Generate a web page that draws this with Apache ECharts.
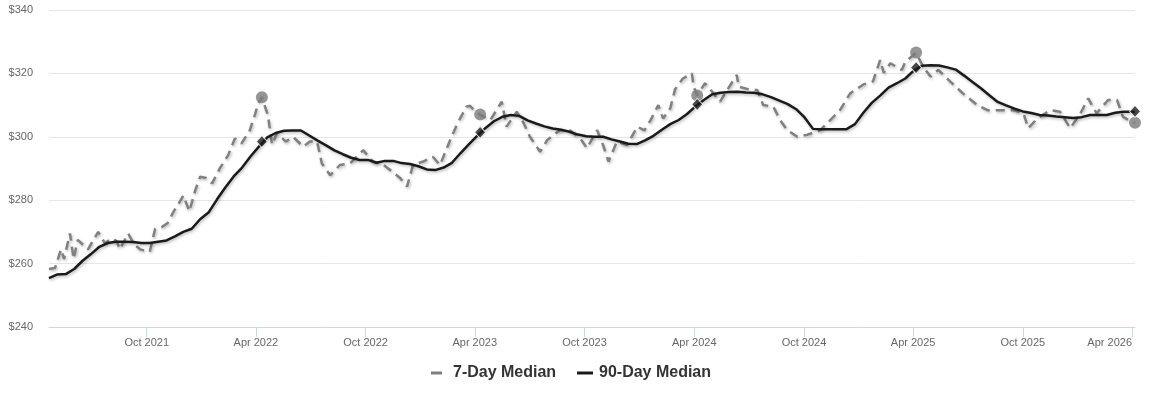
<!DOCTYPE html>
<html>
<head>
<meta charset="utf-8">
<script src="https://cdn.jsdelivr.net/npm/echarts@6/dist/echarts.min.js"></script>
<style>
html,body{margin:0;padding:0;background:#fff;}
#chart{width:1150px;height:401px;}
</style>
</head>
<body>
<div id="chart"></div>
<script>
// ---- Data ----
const tickDates = ['2021-10-01','2022-04-01','2022-10-01','2023-04-01','2023-10-01','2024-04-01','2024-10-01','2025-04-01','2025-10-01','2026-04-01'];
const tickLabels = ['Oct 2021','Apr 2022','Oct 2022','Apr 2023','Oct 2023','Apr 2024','Oct 2024','Apr 2025','Oct 2025','Apr 2026'];
const yTicks = [240, 260, 280, 300, 320, 340];

const dates90 = [
'2021-04-21','2021-05-05','2021-05-19','2021-06-02','2021-06-16','2021-06-30','2021-07-14','2021-07-28','2021-08-11','2021-08-25',
'2021-09-08','2021-09-22','2021-10-06','2021-10-20','2021-11-03','2021-11-17','2021-12-01','2021-12-15','2021-12-29','2022-01-12',
'2022-01-26','2022-02-09','2022-02-23','2022-03-09','2022-03-23','2022-04-06','2022-04-20','2022-05-04','2022-05-18','2022-06-01',
'2022-06-15','2022-06-29','2022-07-13','2022-07-27','2022-08-10','2022-08-24','2022-09-07','2022-09-21','2022-10-05','2022-10-19',
'2022-11-02','2022-11-16','2022-11-30','2022-12-14','2022-12-28','2023-01-11','2023-01-25','2023-02-08','2023-02-22','2023-03-08',
'2023-03-22','2023-04-05','2023-04-19','2023-05-03','2023-05-17','2023-05-31','2023-06-14','2023-06-28','2023-07-12','2023-07-26',
'2023-08-09','2023-08-23','2023-09-06','2023-09-20','2023-10-04','2023-10-18','2023-11-01','2023-11-15','2023-11-29','2023-12-13',
'2023-12-27','2024-01-10','2024-01-24','2024-02-07','2024-02-21','2024-03-06','2024-03-20','2024-04-03','2024-04-17','2024-05-01',
'2024-05-15','2024-05-29','2024-06-12','2024-06-26','2024-07-10','2024-07-24','2024-08-07','2024-08-21','2024-09-04','2024-09-18',
'2024-10-02','2024-10-16','2024-10-30','2024-11-13','2024-11-27','2024-12-11','2024-12-25','2025-01-08','2025-01-22','2025-02-05',
'2025-02-19','2025-03-05','2025-03-19','2025-04-02','2025-04-16','2025-04-30','2025-05-14','2025-05-28','2025-06-11','2025-06-25',
'2025-07-09','2025-07-23','2025-08-06','2025-08-20','2025-09-03','2025-09-17','2025-10-01','2025-10-15','2025-10-29','2025-11-12',
'2025-11-26','2025-12-10','2025-12-24','2026-01-07','2026-01-21','2026-02-04','2026-02-18','2026-03-04','2026-03-18','2026-04-01',
'2026-04-06'];
const values90 = [
255.4,256.6,256.7,258.3,260.9,263.0,265.3,266.5,266.9,266.9,
266.8,266.5,266.5,266.9,267.3,268.6,270.0,271.0,274.0,276.1,
280.2,284.0,287.5,290.3,293.8,296.9,299.8,301.2,301.9,302.0,
302.0,300.4,298.8,297.3,295.7,294.5,293.4,292.7,292.7,291.8,
292.4,292.4,291.7,291.4,290.7,289.7,289.5,290.3,291.8,294.8,
297.6,300.3,302.8,304.9,306.3,306.9,306.6,305.2,304.2,303.3,
302.6,302.2,301.6,300.7,300.2,300.0,300.0,299.2,298.5,297.8,
297.7,298.9,300.3,302.2,304.0,305.3,307.2,309.6,311.6,313.4,
313.9,314.1,314.2,314.0,313.9,313.4,312.5,311.4,310.3,308.7,
306.1,302.5,302.4,302.4,302.4,302.4,304.0,307.6,310.7,313.0,
315.5,316.9,318.4,320.9,322.4,322.6,322.5,321.9,321.2,319.3,
317.3,315.3,313.1,311.0,309.9,308.9,308.0,307.5,306.9,306.7,
306.4,306.2,305.9,306.2,306.9,306.9,306.9,307.6,307.9,307.9,
307.9];

const dates7 = [
'2021-04-21','2021-05-01','2021-05-11','2021-05-16','2021-05-26','2021-06-01','2021-06-08','2021-06-25','2021-07-12','2021-07-23',
'2021-08-04','2021-08-12','2021-08-17','2021-08-31','2021-09-10','2021-09-20','2021-10-06','2021-10-15','2021-10-26','2021-11-05',
'2021-11-15','2021-11-25','2021-12-01','2021-12-11','2021-12-21','2021-12-29','2022-01-08','2022-01-18','2022-01-31','2022-02-14',
'2022-02-25','2022-03-08','2022-03-22','2022-03-31','2022-04-05','2022-04-11','2022-04-21','2022-04-28','2022-05-06','2022-05-21',
'2022-06-02','2022-06-19','2022-06-30','2022-07-12','2022-07-20','2022-08-03','2022-08-19','2022-09-05','2022-09-27','2022-10-13',
'2022-10-28','2022-11-11','2022-11-28','2022-12-09','2022-12-19','2023-01-05','2023-01-21','2023-02-02','2023-02-19','2023-03-03',
'2023-03-18','2023-03-24','2023-03-31','2023-04-10','2023-04-27','2023-05-16','2023-05-24','2023-06-10','2023-06-21','2023-07-02',
'2023-07-19','2023-07-31','2023-08-21','2023-09-07','2023-09-24','2023-10-05','2023-10-22','2023-11-01','2023-11-10','2023-11-24',
'2023-12-11','2023-12-28','2024-01-09','2024-01-19','2024-02-01','2024-02-09','2024-02-21','2024-02-29','2024-03-13','2024-03-28',
'2024-03-31','2024-04-06','2024-04-19','2024-05-01','2024-05-14','2024-05-26','2024-06-11','2024-06-14','2024-07-04','2024-07-15',
'2024-07-25','2024-08-11','2024-08-22','2024-09-03','2024-09-20','2024-10-06','2024-10-28','2024-11-14','2024-11-30','2024-12-17',
'2025-01-08','2025-01-24','2025-02-05','2025-02-11','2025-02-22','2025-03-13','2025-03-19','2025-04-06','2025-04-18','2025-04-30',
'2025-05-13','2025-06-02','2025-06-23','2025-07-17','2025-08-03','2025-08-19','2025-09-15','2025-10-02','2025-10-10','2025-10-25',
'2025-11-16','2025-12-02','2025-12-19','2026-01-05','2026-01-18','2026-02-01','2026-02-20','2026-03-07','2026-03-17','2026-04-06'];
const values7 = [
258.3,258.6,264.5,261.5,269.5,261.5,267.5,264.5,270.0,266.5,
268.0,267.0,264.5,269.5,266.0,264.5,263.7,271.0,271.5,272.8,
276.5,279.5,281.5,276.5,283.2,287.4,287.0,285.3,290.1,294.3,
299.5,297.9,302.1,307.4,310.6,312.5,306.8,297.5,301.1,298.5,
300.0,296.9,298.5,298.5,291.6,287.9,291.1,291.6,295.8,292.2,
291.5,289.5,286.9,284.3,291.1,292.2,293.7,291.1,299.0,304.2,
309.5,309.8,308.4,306.9,305.3,311.1,303.2,307.9,304.5,300.0,
295.3,299.0,302.1,302.0,299.5,296.4,302.1,297.4,292.2,298.5,
297.4,303.2,302.0,305.2,310.0,305.8,309.0,315.0,318.4,320.0,
315.8,313.2,316.9,314.2,311.1,314.8,319.5,315.8,314.8,314.8,
310.0,309.5,305.3,302.1,300.0,300.6,302.1,305.3,308.4,313.7,
316.5,317.5,324.2,320.2,323.2,321.1,323.7,326.5,322.0,319.0,
321.1,317.4,313.7,310.0,308.4,308.4,308.4,307.4,302.7,305.8,
308.4,307.9,302.7,307.4,312.1,307.4,311.6,311.6,306.3,304.3];

const markerDates = ['2022-04-11','2023-04-10','2024-04-06','2025-04-06','2026-04-06'];
const markers7 = [312.5, 307.0, 313.0, 326.6, 304.4];
const markers90 = [298.5, 301.4, 310.2, 321.8, 308.0];

// ---- Chart ----
const P = s => { const p = s.split('-').map(Number); return Date.UTC(p[0], p[1] - 1, p[2]); };
const zip = (d, v) => d.map((x, i) => [P(x), v[i]]);
const tickTs = tickDates.map(P);
const FONT = '"Liberation Sans", Arial, Helvetica, sans-serif';
const shadow = {shadowColor: 'rgba(0,0,0,0.28)', shadowBlur: 3, shadowOffsetX: 1, shadowOffsetY: 1.5};

const chart = echarts.init(document.getElementById('chart'), null, {renderer: 'canvas'});
chart.setOption({
  backgroundColor: '#ffffff',
  animation: false,
  textStyle: {fontFamily: FONT},
  grid: {left: 49, right: 15, top: 10, bottom: 74, containLabel: false, outerBoundsMode: 'none'},
  legend: [
    {
      data: [{name: '7-Day Median', icon: 'rect', itemStyle: {color: '#808080'}}],
      left: 431, top: 365, padding: 0, itemWidth: 11, itemHeight: 3,
      textStyle: {fontFamily: FONT, fontSize: 16, fontWeight: 'bold', color: '#333333', padding: [0, 0, 0, 6]}
    },
    {
      data: [{name: '90-Day Median', icon: 'rect', itemStyle: {color: '#1a1a1a'}}],
      left: 577, top: 365, padding: 0, itemWidth: 16, itemHeight: 3,
      textStyle: {fontFamily: FONT, fontSize: 16, fontWeight: 'bold', color: '#333333', padding: [0, 0, 0, 1]}
    }
  ],
  xAxis: {
    type: 'value',
    min: P('2021-04-21'),
    max: P('2026-04-06'),
    axisLine: {show: true, lineStyle: {color: '#ccd6eb', width: 1}},
    axisTick: {show: true, length: 10, lineStyle: {color: '#ccd6eb'}, customValues: tickTs},
    axisLabel: {
      customValues: tickTs,
      showMinLabel: true, showMaxLabel: true, alignMaxLabel: 'right',
      color: '#666666', fontSize: 11, fontFamily: FONT, margin: 10,
      formatter: v => { const i = tickTs.indexOf(v); return i >= 0 ? tickLabels[i] : ''; }
    },
    splitLine: {show: false}
  },
  yAxis: {
    type: 'value',
    min: yTicks[0], max: yTicks[yTicks.length - 1], interval: 20,
    axisLine: {show: false}, axisTick: {show: false},
    axisLabel: {color: '#666666', fontSize: 11, fontFamily: FONT, margin: 16, formatter: v => '$' + v},
    splitLine: {lineStyle: {color: '#e6e6e6', width: 1}}
  },
  series: [
    {
      name: '7-Day Median', type: 'line', data: zip(dates7, values7),
      showSymbol: false, symbol: 'none', smooth: false, z: 2,
      lineStyle: Object.assign({color: '#808080', width: 2.5, type: [9, 6]}, shadow),
      itemStyle: {color: '#808080'}
    },
    {
      name: '90-Day Median', type: 'line', data: zip(dates90, values90),
      showSymbol: false, symbol: 'none', smooth: false, z: 3,
      lineStyle: Object.assign({color: '#1a1a1a', width: 2.5}, shadow),
      itemStyle: {color: '#1a1a1a'}
    },
    {
      name: '7-Day Markers', type: 'scatter', data: zip(markerDates, markers7),
      symbol: 'circle', symbolSize: 12, z: 4,
      itemStyle: {color: '#7a7a7a'}
    },
    {
      name: '90-Day Markers', type: 'scatter', data: zip(markerDates, markers90),
      symbol: 'diamond', symbolSize: [11, 12], z: 5,
      itemStyle: {color: '#1a1a1a', borderColor: '#ffffff', borderWidth: 1}
    }
  ]
});
</script>
</body>
</html>
